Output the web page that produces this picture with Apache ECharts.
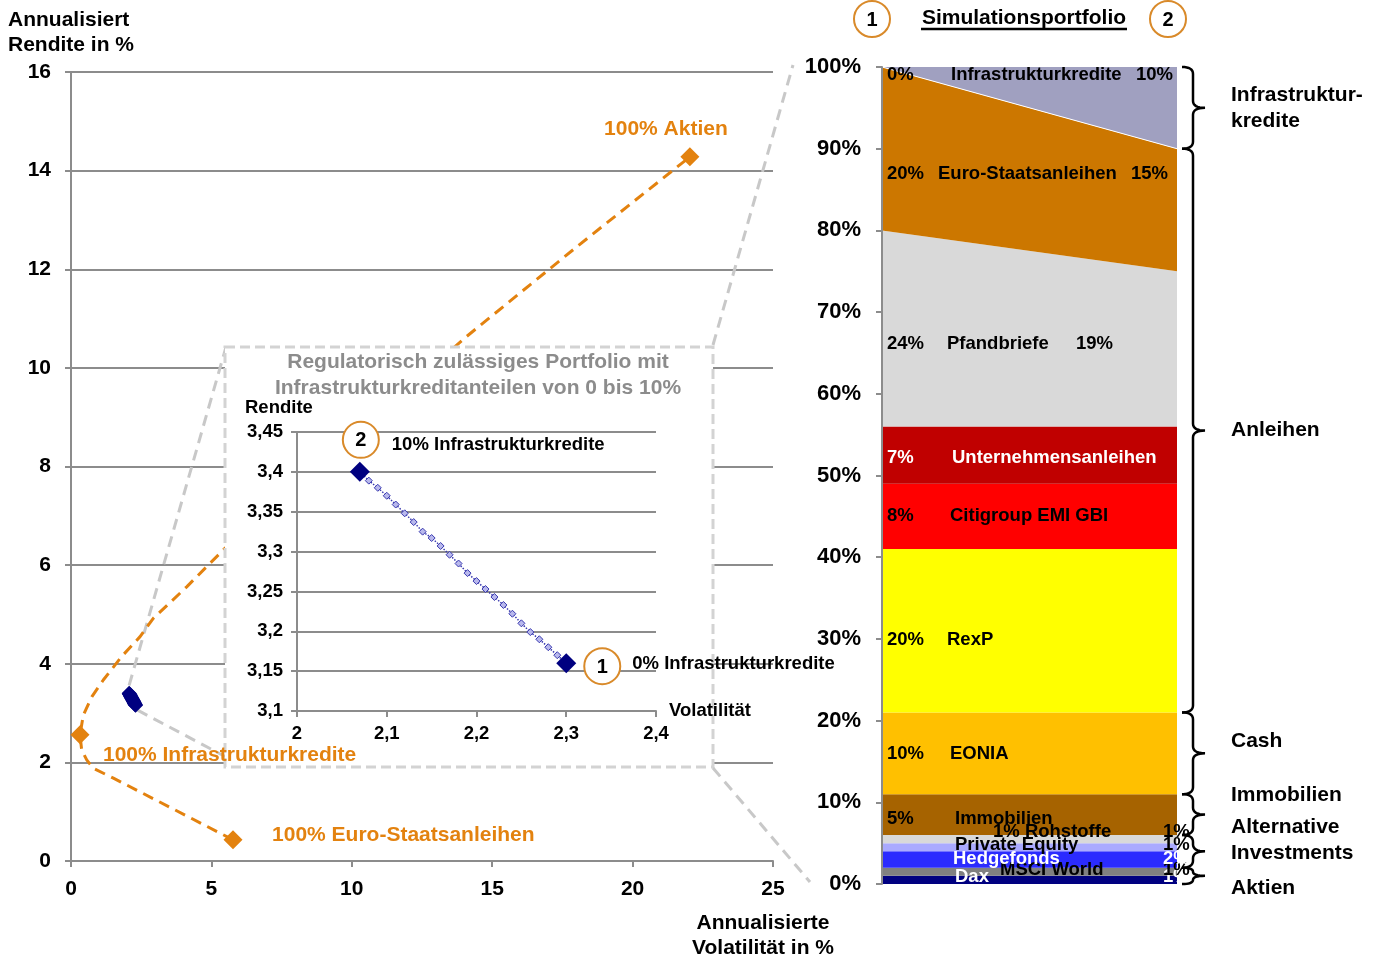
<!DOCTYPE html>
<html>
<head>
<meta charset="utf-8">
<script src="https://cdn.jsdelivr.net/npm/echarts@6/dist/echarts.min.js"></script>
<style>
  html, body { margin: 0; padding: 0; background: #fff; }
  #chart { width: 1380px; height: 958px; }
</style>
</head>
<body>
<div id="chart"></div>
<script>
// ---------- data ----------
// Efficient frontier: annualised volatility (%) and return (%)
const frontierVol = [5.77, 1.51, 0.79, 0.56, 0.38, 0.32, 0.44, 0.74, 1.15, 1.81, 2.46, 2.93, 4.12, 5.48, 8.0, 11.0, 14.03, 18.0, 22.04];
const frontierRet = [0.43, 1.68, 1.88, 2.05, 2.25, 2.56, 2.96, 3.33, 3.67, 4.15, 4.55, 4.92, 5.56, 6.34, 7.6, 9.1, 10.61, 12.45, 14.28];

// Single-asset portfolios on the frontier
const endpointNames = ['100% Aktien', '100% Infrastrukturkredite', '100% Euro-Staatsanleihen'];
const endpointVol = [22.04, 0.32, 5.77];
const endpointRet = [14.28, 2.56, 0.43];

// Regulatory portfolios, infrastructure share from 10% down to 0%
const portVol = [2.07, 2.08, 2.09, 2.10, 2.11, 2.12, 2.13, 2.14, 2.15, 2.16, 2.17, 2.18, 2.19, 2.20, 2.21, 2.22, 2.23, 2.24, 2.25, 2.26, 2.27, 2.28, 2.29, 2.30];
const portRet = [3.40, 3.389, 3.38, 3.37, 3.359, 3.348, 3.337, 3.325, 3.317, 3.307, 3.296, 3.285, 3.273, 3.263, 3.253, 3.243, 3.233, 3.222, 3.21, 3.199, 3.19, 3.18, 3.17, 3.16];
const portEndLabels = ['10% Infrastrukturkredite', '0% Infrastrukturkredite'];
const portEndMarks = ['2', '1'];

// Simulation portfolios 1 and 2: asset allocation in %
const portfolioIds = ['1', '2'];
const assetNames = ['Dax', 'MSCI World', 'Hedgefonds', 'Private Equity', 'Rohstoffe', 'Immobilien', 'EONIA', 'RexP',
  'Citigroup EMI GBI', 'Unternehmensanleihen', 'Pfandbriefe', 'Euro-Staatsanleihen', 'Infrastrukturkredite'];
const alloc1 = [1, 1, 2, 1, 1, 5, 10, 20, 8, 7, 24, 20, 0];
const alloc2 = [1, 1, 2, 1, 1, 5, 10, 20, 8, 7, 19, 15, 10];
const groupNames = ['Aktien', 'Alternative\nInvestments', 'Immobilien', 'Cash', 'Anleihen', 'Infrastruktur-\nkredite'];
const assetGroup = [0, 0, 1, 1, 1, 2, 3, 4, 4, 4, 4, 4, 5];

// Axis ranges
const mainVolAxis = { min: 0, max: 25, interval: 5 };
const mainRetAxis = { min: 0, max: 16, interval: 2 };
const insetVolAxis = { min: 2, max: 2.4, interval: 0.1 };
const insetRetAxis = { min: 3.1, max: 3.45, interval: 0.05 };
const allocAxis = { min: 0, max: 100, interval: 10 };

// ---------- styles ----------
const FONT = '"Liberation Sans", Arial, Helvetica, sans-serif';
const GRID_GRAY = '#8C8C8C';
const ORANGE = '#E3820F';
const RING = '#D98A2A';
const NAVY = '#000080';
const CONNECT = '#C8C8C8';
const assetColors = ['#000080', '#808080', '#2B2BFF', '#AAAAFF', '#D9D9D9', '#A66300', '#FFC000', '#FFFF00',
  '#FF0000', '#C00000', '#D9D9D9', '#CC7700', '#A0A0C0'];
const assetTextColors = ['#fff', '#000', '#fff', '#000', '#000', '#000', '#000', '#000', '#000', '#fff', '#000', '#000', '#000'];

// label placement in the allocation chart
const layerLabelLayout = [
  { nameDx: 73, dy: -3, rightX: 1163, leftPct: false },
  { nameDx: 118, dy: -2, rightX: 1163, leftPct: false },
  { nameDx: 71, dy: -1, rightX: 1163, leftPct: false },
  { nameDx: 73, dy: -2, rightX: 1163, leftPct: false },
  { nameDx: 111, dy: -7, rightX: 1163, leftPct: false, pctInName: true },
  { nameDx: 73, dy: 4, rightX: null, leftPct: true },
  { nameDx: 68, dy: 1, rightX: null, leftPct: true },
  { nameDx: 65, dy: 9, rightX: null, leftPct: true },
  { nameDx: 68, dy: 0, rightX: null, leftPct: true },
  { nameDx: 70, dy: 3, rightX: null, leftPct: true },
  { nameDx: 65, dy: 15, rightX: 1076, leftPct: true },
  { nameDx: 56, dy: 25, rightX: 1131, leftPct: true },
  { nameDx: 69, dy: 8, rightX: 1136, leftPct: true }
];
const groupLabelDy = [12, -11, -19, -12, 0, 0];
const endpointLabelLayout = [
  { align: 'center', offset: [-24, -28] },
  { align: 'left', offset: [23, 20] },
  { align: 'left', offset: [39, -5] }
];
const portLabelLayout = [
  { offset: [32, -27], ring: [1, -32] },
  { offset: [66, 1], ring: [36, 3] }
];

const bold = (size, color) => ({ fontFamily: FONT, fontWeight: 'bold', fontSize: size, color: color || '#000' });
const decComma = v => String(Math.round(v * 100) / 100).replace('.', ',');
const axisLineStyle = { show: true, lineStyle: { color: GRID_GRAY, width: 2 } };
const axisTickStyle = { show: true, length: 6, lineStyle: { color: GRID_GRAY, width: 2 } };

const chart = echarts.init(document.getElementById('chart'), null, { renderer: 'canvas' });

const allocSeries = assetNames.map((name, i) => ({
  type: 'line',
  name: name,
  xAxisIndex: 2,
  yAxisIndex: 2,
  stack: 'alloc',
  data: [alloc1[i], alloc2[i]],
  symbol: 'none',
  silent: true,
  z: 2,
  lineStyle: name === 'Euro-Staatsanleihen' ? { width: 1, color: '#fff' } : { width: 0 },
  areaStyle: { color: assetColors[i], opacity: 1 }
}));

const option = {
  animation: false,
  backgroundColor: '#fff',
  grid: [
    { left: 71, top: 72, width: 702, height: 789 },
    { left: 297, top: 432, width: 359, height: 279 },
    { left: 882, top: 67, width: 295, height: 817 }
  ],
  xAxis: [
    {
      gridIndex: 0, type: 'value', ...mainVolAxis, z: 1,
      axisLine: axisLineStyle, axisTick: axisTickStyle,
      axisLabel: { ...bold(21), margin: 18 }, splitLine: { show: false }
    },
    {
      gridIndex: 1, type: 'value', ...insetVolAxis, z: 10,
      axisLine: axisLineStyle, axisTick: axisTickStyle,
      axisLabel: { ...bold(18.5), margin: 13, formatter: decComma }, splitLine: { show: false }
    },
    {
      gridIndex: 2, type: 'category', data: portfolioIds, boundaryGap: false, show: false
    }
  ],
  yAxis: [
    {
      gridIndex: 0, type: 'value', ...mainRetAxis, z: 1,
      axisLine: axisLineStyle, axisTick: axisTickStyle,
      axisLabel: { ...bold(21), margin: 20 },
      splitLine: { show: true, lineStyle: { color: GRID_GRAY, width: 2 } }
    },
    {
      gridIndex: 1, type: 'value', ...insetRetAxis, z: 10,
      axisLine: axisLineStyle, axisTick: axisTickStyle,
      axisLabel: { ...bold(18.5), margin: 14, formatter: decComma },
      splitLine: { show: true, lineStyle: { color: GRID_GRAY, width: 2 } }
    },
    {
      gridIndex: 2, type: 'value', ...allocAxis, z: 3,
      axisLine: axisLineStyle, axisTick: axisTickStyle,
      axisLabel: { ...bold(22), margin: 21, formatter: '{value}%' },
      splitLine: { show: false }
    }
  ],
  series: [
    {
      type: 'line', name: 'Effizienzlinie', xAxisIndex: 0, yAxisIndex: 0, z: 2, silent: true,
      data: frontierVol.map((v, i) => [v, frontierRet[i]]),
      symbol: 'none',
      lineStyle: { color: ORANGE, width: 3, type: [11, 7] }
    },
    {
      type: 'scatter', name: 'Einzelanlagen', xAxisIndex: 0, yAxisIndex: 0, z: 20, silent: true,
      symbol: 'diamond', symbolSize: 19,
      itemStyle: { color: ORANGE, opacity: 1 },
      label: { show: true, position: 'inside', formatter: '{b}', ...bold(21, ORANGE), verticalAlign: 'middle' },
      data: endpointNames.map((n, i) => ({
        name: n,
        value: [endpointVol[i], endpointRet[i]],
        label: { align: endpointLabelLayout[i].align, offset: endpointLabelLayout[i].offset }
      }))
    },
    {
      type: 'scatter', name: 'Portfolios', xAxisIndex: 0, yAxisIndex: 0, z: 3, silent: true,
      symbol: 'diamond', symbolSize: 15,
      itemStyle: { color: NAVY, opacity: 1 },
      data: portVol.map((v, i) => [v, portRet[i]])
    },
    {
      type: 'line', name: 'Portfolios Detail', xAxisIndex: 1, yAxisIndex: 1, z: 12, silent: true,
      data: portVol.map((v, i) => [v, portRet[i]]),
      symbol: 'diamond', symbolSize: 7, showSymbol: true, showAllSymbol: true,
      itemStyle: { color: '#B8B8EC', borderColor: '#3A3AB0', borderWidth: 1, opacity: 1 },
      lineStyle: { color: '#3A3AB0', width: 1.5, type: 'dotted' }
    },
    {
      type: 'scatter', name: 'Simulationsportfolios', xAxisIndex: 1, yAxisIndex: 1, z: 13, silent: true,
      symbol: 'diamond', symbolSize: 20,
      itemStyle: { color: NAVY, opacity: 1 },
      label: { show: true, position: 'inside', formatter: '{b}', ...bold(18.5), align: 'left', verticalAlign: 'middle' },
      data: [0, portVol.length - 1].map((idx, k) => ({
        name: portEndLabels[k],
        value: [portVol[idx], portRet[idx]],
        label: { offset: portLabelLayout[k].offset }
      }))
    },
    ...allocSeries
  ]
};

chart.setOption(option);

// ---------- overlay graphics ----------
function txt(text, x, y, o) {
  o = o || {};
  const align = o.align || 'left';
  const valign = o.valign || 'middle';
  return {
    type: 'text', silent: true, z: o.z != null ? o.z : 30,
    style: {
      text: text, x: x, y: y,
      font: 'bold ' + (o.size || 21) + 'px ' + FONT,
      fill: o.color || '#000',
      textAlign: align, align: align,
      textVerticalAlign: valign, verticalAlign: valign,
      lineHeight: o.lineHeight || undefined
    }
  };
}
function dashed(x1, y1, x2, y2, z) {
  return {
    type: 'line', silent: true, z: z,
    shape: { x1: x1, y1: y1, x2: x2, y2: y2 },
    style: { stroke: CONNECT, lineWidth: 3, lineDash: [11, 7] }
  };
}
function ring(cx, cy, label, z) {
  return [
    { type: 'circle', silent: true, z: z, shape: { cx: cx, cy: cy, r: 18 }, style: { fill: '#fff', stroke: RING, lineWidth: 2 } },
    txt(label, cx, cy + 1, { align: 'center', size: 20, z: z + 1 })
  ];
}
function bracePoints(yTop, yBot) {
  const xL = 1182, xM = 1193, xR = 1205;
  const r = Math.min(7, (yBot - yTop) / 4);
  const ym = (yTop + yBot) / 2;
  const pts = [];
  const quad = (p0, p1, p2) => {
    for (let s = 0; s <= 8; s++) {
      const t = s / 8, a = (1 - t) * (1 - t), b = 2 * (1 - t) * t, c = t * t;
      pts.push([a * p0[0] + b * p1[0] + c * p2[0], a * p0[1] + b * p1[1] + c * p2[1]]);
    }
  };
  quad([xL, yTop], [xM, yTop], [xM, yTop + r]);
  quad([xM, ym - r], [xM, ym], [xR, ym]);
  quad([xR, ym], [xM, ym], [xM, ym + r]);
  quad([xM, yBot - r], [xM, yBot], [xL, yBot]);
  return pts;
}

const toMain = (x, y) => chart.convertToPixel({ xAxisIndex: 0, yAxisIndex: 0 }, [x, y]);
const toInset = (x, y) => chart.convertToPixel({ xAxisIndex: 1, yAxisIndex: 1 }, [x, y]);
const allocY = v => chart.convertToPixel({ yAxisIndex: 2 }, v);
const allocLeft = chart.convertToPixel({ xAxisIndex: 2 }, 0);

const g = [];

// inset frame
const box = { x: 225, y: 347, w: 488, h: 420 };
g.push({
  type: 'rect', silent: true, z: 5,
  shape: { x: box.x, y: box.y, width: box.w, height: box.h },
  style: { fill: '#fff', stroke: '#D3D3D3', lineWidth: 3, lineDash: [10, 5] }
});
g.push(txt('Regulatorisch zulässiges Portfolio mit\nInfrastrukturkreditanteilen von 0 bis 10%', 478, 375,
  { align: 'center', size: 21, color: '#8C8C8C', lineHeight: 26, z: 15 }));
g.push(txt('Rendite', 245, 408, { size: 18.5, z: 15 }));
g.push(txt('Volatilität', 669, 711, { size: 18.5, z: 15 }));

// connectors from the portfolio cluster to the inset and from the inset to the allocation chart
const pTop = toMain(portVol[0], portRet[0]);
const pBot = toMain(portVol[portVol.length - 1], portRet[portRet.length - 1]);
g.push(dashed(pTop[0], pTop[1] - 8, box.x + 1, box.y, 2));
g.push(dashed(pBot[0] + 2, pBot[1] + 5, box.x + 1, 757, 2));
g.push(dashed(box.x + box.w, box.y - 2, 793, allocY(100) - 2, 6));
g.push(dashed(box.x + box.w, box.y + box.h + 1, 810, allocY(0) - 2, 6));

// numbered rings at the two simulation portfolios
[0, portVol.length - 1].forEach((idx, k) => {
  const p = toInset(portVol[idx], portRet[idx]);
  ring(p[0] + portLabelLayout[k].ring[0], p[1] + portLabelLayout[k].ring[1], portEndMarks[k], 15).forEach(e => g.push(e));
});

// header of the allocation chart
ring(872, 19, '1', 30).forEach(e => g.push(e));
ring(1168, 19, '2', 30).forEach(e => g.push(e));
g.push(txt('Simulationsportfolio', 1024, 18, { align: 'center', size: 21 }));
g.push({ type: 'line', silent: true, z: 30, shape: { x1: 921, y1: 29, x2: 1127, y2: 29 }, style: { stroke: '#000', lineWidth: 2.5 } });

// axis titles of the risk/return chart
g.push(txt('Annualisiert\nRendite in %', 8, 33, { size: 21, lineHeight: 25 }));
g.push(txt('Annualisierte\nVolatilität in %', 763, 936, { align: 'center', size: 21, lineHeight: 25 }));

// labels inside the stacked allocation areas
let cum1 = 0;
assetNames.forEach((name, i) => {
  const L = layerLabelLayout[i];
  const row = allocY(cum1 + alloc1[i] / 2) + L.dy;
  const col = assetTextColors[i];
  const label = L.pctInName ? alloc1[i] + '% ' + name : name;
  g.push(txt(label, allocLeft + L.nameDx, row, { size: 18.5, color: col }));
  if (L.leftPct) g.push(txt(alloc1[i] + '%', allocLeft + 5, row, { size: 18.5, color: col }));
  if (L.rightX != null) g.push(txt(alloc2[i] + '%', L.rightX, row, { size: 18.5, color: col, z: 29 }));
  cum1 += alloc1[i];
});

// braces grouping the asset classes (portfolio 2)
const groupSpan = groupNames.map(() => [Infinity, -Infinity]);
let cum2 = 0;
assetNames.forEach((name, i) => {
  const s = groupSpan[assetGroup[i]];
  s[0] = Math.min(s[0], cum2);
  s[1] = Math.max(s[1], cum2 + alloc2[i]);
  cum2 += alloc2[i];
});
groupNames.forEach((gname, k) => {
  const yTop = allocY(groupSpan[k][1]);
  const yBot = allocY(groupSpan[k][0]);
  g.push({
    type: 'polyline', silent: true, z: 35,
    shape: { points: bracePoints(yTop, yBot) },
    style: { stroke: '#000', lineWidth: 2.5, fill: null }
  });
  g.push(txt(gname, 1231, (yTop + yBot) / 2 + groupLabelDy[k], { size: 21, lineHeight: 26 }));
});

chart.setOption({ graphic: { elements: g } });
</script>
</body>
</html>
